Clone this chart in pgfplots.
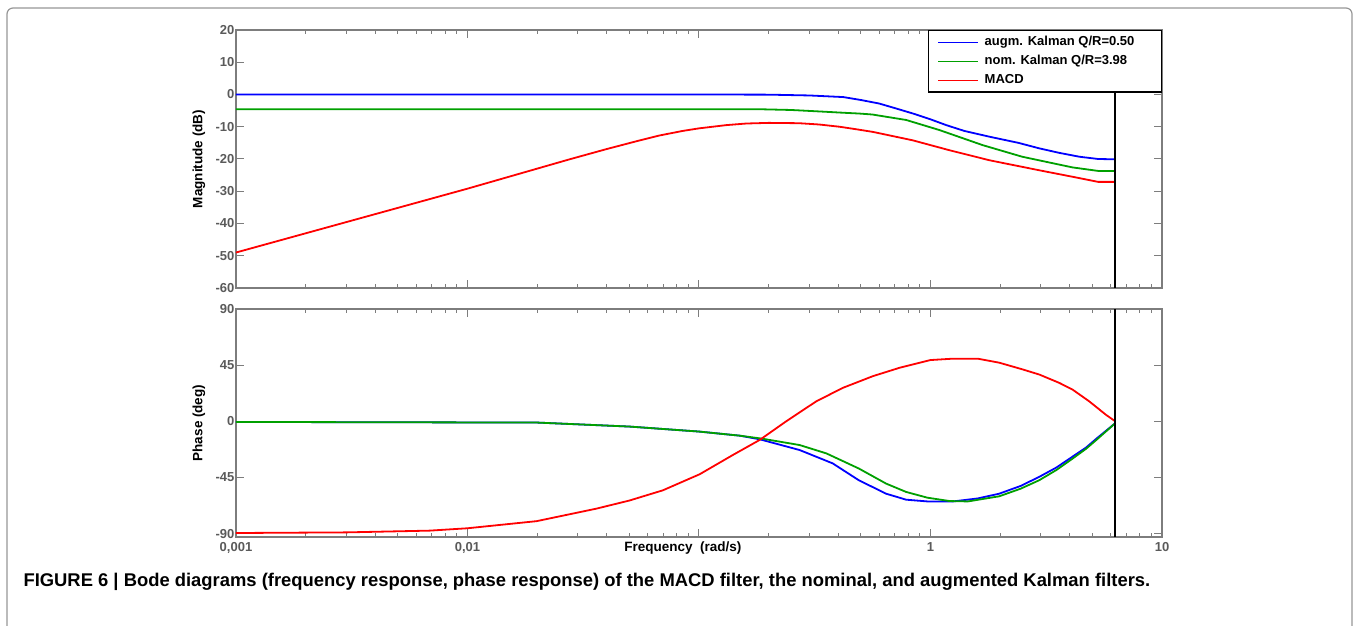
\documentclass[border=0pt]{standalone}
\usepackage{fontspec}
\setmainfont{Liberation Sans}
\usepackage{pgfplots}
\pgfplotsset{compat=1.18}

\definecolor{mblue}{RGB}{0,0,255}
\definecolor{mgreen}{RGB}{0,160,0}
\definecolor{mred}{RGB}{255,0,0}
\definecolor{framegray}{RGB}{125,125,125}
\definecolor{labelgray}{RGB}{90,90,90}
\definecolor{boxgray}{RGB}{150,150,150}

\pgfplotsset{
  width=926pt, scale only axis,
  axis line style={framegray, line width=1.2pt},
  every tick/.style={framegray, line width=1pt},
  major tick length=8pt, minor tick length=4pt,
  tick align=inside,
  ticklabel style={font=\fontsize{13}{15}\selectfont\bfseries, text=labelgray},
  label style={font=\fontsize{13.5}{16}\selectfont\bfseries},
  yticklabel style={inner sep=1.5pt},
  ylabel style={at={(axis description cs:-0.040,0.5)}, anchor=center},
  every axis plot/.append style={line width=1.8pt},
}

\begin{document}
\begin{tikzpicture}
\path[use as bounding box] (0pt,0pt) rectangle (1357pt,626pt);
\draw[boxgray, line width=1.2pt, rounded corners=6pt] (7pt,-2pt) -- (7pt,618pt) -- (1352pt,618pt) -- (1352pt,-2pt);

% magnitude
\begin{axis}[xmode=log, xmin=0.001, xmax=10,
  xtick={0.001,0.01,0.1,1,10},
  minor xtick={0.002,0.003,0.004,0.005,0.006,0.007,0.008,0.009,
               0.02,0.03,0.04,0.05,0.06,0.07,0.08,0.09,
               0.2,0.3,0.4,0.5,0.6,0.7,0.8,0.9,2,3,4,5,6,7,8,9},
  /pgf/number format/assume math mode=true,
  at={(236pt,338pt)}, anchor=south west, height=258pt,
  ymin=-60, ymax=20, ytick={-60,-50,...,20},
  xticklabel=\empty,
  ylabel={Magnitude (dB)},
  legend style={at={(1,1)}, anchor=north east, draw=black, line width=1.2pt, fill=white,
    font=\fontsize{13}{15}\selectfont\bfseries, inner xsep=9pt, inner ysep=3.5pt,
    row sep=2.5pt, column sep=4pt,
    nodes={inner sep=2pt, text height=9.5pt, text depth=3pt}},
  legend cell align=left,
  legend image code/.code={\draw[#1, line width=1.3pt] (0pt,0pt) -- (40pt,0pt);},
]
\addplot[mblue] coordinates {
  (0.001,0) (0.1,0) (0.2,-0.05) (0.3,-0.3) (0.42,-0.8) (0.5,-1.7) (0.6,-2.8)
  (0.7,-4.2) (0.84,-5.9) (1,-7.7) (1.17,-9.5) (1.4,-11.3) (1.8,-13.1)
  (2.4,-15.0) (2.95,-16.7) (3.6,-18.1) (4.4,-19.3) (5.3,-20.0) (6.2832,-20.1)
};
\addlegendentry{augm. Kalman Q/R=0.50\hspace*{16pt}}
\addplot[mgreen] coordinates {
  (0.001,-4.6) (0.19,-4.6) (0.25,-4.8) (0.34,-5.3) (0.405,-5.6) (0.49,-5.9)
  (0.56,-6.2) (0.785,-7.9) (1.09,-11.0) (1.68,-15.7) (2.49,-19.3) (4.1,-22.6)
  (5.3,-23.7) (6.2832,-23.7)
};
\addlegendentry{nom. Kalman Q/R=3.98}
\addplot[mred] coordinates {
  (0.001,-49) (0.01,-29.2) (0.0276,-20.1) (0.04,-16.9) (0.055,-14.3) (0.0676,-12.7)
  (0.085,-11.3) (0.1,-10.5) (0.131,-9.5) (0.16,-9.0) (0.2,-8.8) (0.27,-8.9)
  (0.33,-9.3) (0.405,-10.0) (0.48,-10.8) (0.564,-11.6) (0.837,-14.2) (1.21,-17.3)
  (1.8,-20.4) (2.95,-23.5) (4.1,-25.5) (5.3,-27.1) (6.2832,-27.1)
};
\addlegendentry{MACD}
\addplot[black, line width=2pt, forget plot] coordinates {(6.2832,-60) (6.2832,20)};
\end{axis}

% phase
\begin{axis}[xmode=log, xmin=0.001, xmax=10,
  xtick={0.001,0.01,0.1,1,10},
  minor xtick={0.002,0.003,0.004,0.005,0.006,0.007,0.008,0.009,
               0.02,0.03,0.04,0.05,0.06,0.07,0.08,0.09,
               0.2,0.3,0.4,0.5,0.6,0.7,0.8,0.9,2,3,4,5,6,7,8,9},
  /pgf/number format/assume math mode=true,
  at={(236pt,89pt)}, anchor=south west, height=228pt,
  ymin=-92.7, ymax=90, ytick={-90,-45,0,45,90},
  xticklabels={{0,001},{0,01},{},{1},{10}},
  xticklabel style={anchor=base, yshift=-15pt},
  xlabel={Frequency\ \ (rad/s)},
  xlabel style={at={(axis description cs:0.4827,0)}, anchor=base, yshift=-15pt},
  ylabel={Phase (deg)},
]
\addplot[mblue] coordinates {
  (0.001,-0.5) (0.02,-1) (0.05,-4.2) (0.1,-8.2) (0.15,-11.5) (0.183,-14.4)
  (0.272,-23) (0.378,-33.7) (0.49,-47.2) (0.643,-58) (0.785,-62.8) (0.97,-64.2)
  (1.25,-64.2) (1.6,-61.8) (1.98,-58) (2.45,-51.8) (2.95,-44.5) (3.5,-37)
  (4.1,-28.4) (4.7,-21) (5.2,-14) (6.2832,-1.5)
};
\addplot[mgreen] coordinates {
  (0.001,-0.5) (0.02,-1) (0.05,-4.2) (0.1,-8.2) (0.15,-11.5) (0.186,-13.8)
  (0.272,-19) (0.355,-25.7) (0.49,-37.8) (0.643,-49.9) (0.785,-56.6) (0.97,-61.2)
  (1.21,-63.9) (1.45,-64.2) (1.98,-60.1) (2.45,-54) (2.95,-47.2) (3.5,-39)
  (4.1,-30) (4.7,-22) (5.2,-15) (6.2832,-1.5)
};
\addplot[mred] coordinates {
  (0.001,-89.5) (0.003,-89) (0.00687,-87.6) (0.01,-85.7) (0.0199,-80) (0.036,-70)
  (0.05,-63.5) (0.0698,-55.3) (0.1007,-42.4) (0.14,-27) (0.183,-14.9) (0.238,0)
  (0.321,16) (0.418,26.8) (0.564,36.2) (0.735,42.9) (1,49.1) (1.25,50.2) (1.6,50.2)
  (1.98,47) (2.5,41.6) (2.95,37.5) (3.6,30.8) (4.11,25.4) (4.85,16) (5.73,5.2)
  (6.2832,0)
};
\addplot[black, line width=2pt, forget plot] coordinates {(6.2832,-92.7) (6.2832,90)};
\end{axis}

\node[anchor=base west, font=\fontsize{18.4}{21}\selectfont\bfseries] at (20pt,39pt)
  {FIGURE 6 | Bode diagrams (frequency response, phase response) of the MACD filter, the nominal, and augmented Kalman filters.};
\end{tikzpicture}
\end{document}
